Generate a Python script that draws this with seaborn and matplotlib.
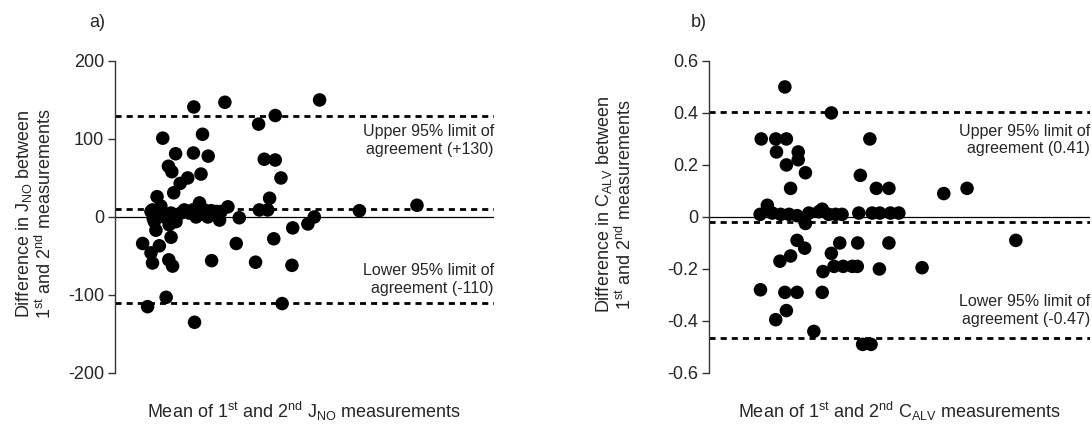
import matplotlib.pyplot as plt
import pandas as pd
import seaborn as sns

sns.set_theme(style="ticks")
plt.rcParams["font.family"] = ["Liberation Sans", "DejaVu Sans"]
plt.rcParams["mathtext.default"] = "regular"
plt.rcParams["axes.unicode_minus"] = False

# panel a) J_NO, x in arbitrary units (no x ticks on the original)
jno_mean = [20.8, 29.0, 54.0, 42.3, 37.9, 12.6, 23.1, 16.0, 20.7, 24.6, 14.1, 15.0,
            39.4, 42.3, 17.2, 19.2, 22.7, 43.8, 15.5, 11.1, 40.8,
            9.9, 12.1, 10.1, 11.3, 13.5, 14.8, 16.1, 18.3, 19.6, 22.3, 21.8, 21.4,
            24.5, 25.4, 27.6, 29.8, 28.0, 32.8, 38.1, 40.3, 64.5, 79.7, 52.6,
            9.5, 10.4, 13.0, 17.4, 23.6, 26.7, 20.5,
            10.8, 14.3, 14.8, 46.9, 50.9, 41.9, 7.3, 11.7, 32.0, 9.5, 9.9, 14.2,
            15.2, 25.5, 37.1, 46.7, 13.5, 8.6, 44.1, 21.0]
jno_diff = [141, 147, 150, 130, 119, 101, 106, 81, 82, 78, 65, 58,
            74, 73, 43, 50, 55, 50, 31, 26, 24,
            9, 14, -2, 3, 3, 5, -6, 9, 5, 18, 9, 0,
            0, 8, -4, 13, 7, -1, 9, 9, 8, 15, 0,
            7, -6, 0, 5, 9, 7, 9,
            -17, -10, -26, -14, -9, -28, -34, -37, -34, -46, -59, -55,
            -63, -56, -58, -62, -103, -115, -111, -135]
jno_limits = [-110, 10, 130]  # lower, mean, upper
jno_ticks = [-200, -100, 0, 100, 200]
jno_ticklabels = ["-200", "-100", "0", "100", "200"]

# panel b) C_ALV
calv_mean = [19.9, 32.1, 13.7, 17.5, 20.3, 42.2, 17.7, 23.4, 20.3, 23.4, 25.3, 39.7,
             21.4, 43.9, 47.2, 61.6, 67.7,
             13.4, 15.3, 16.6, 18.8, 21.0, 23.1, 25.3, 26.2, 28.8, 29.7, 31.4, 33.2,
             34.9, 39.3, 42.8, 44.8, 47.6, 49.8,
             80.5, 23.1, 25.1, 34.3, 39.0, 47.2, 32.1, 21.4, 18.6, 32.8, 35.2, 37.6,
             38.9, 44.7, 55.9, 29.9, 13.5, 19.9, 23.1, 29.7, 20.3, 17.5, 27.5, 40.3, 42.5]
calv_diff = [0.50, 0.40, 0.30, 0.30, 0.30, 0.30, 0.25, 0.25, 0.20, 0.22, 0.17, 0.16,
             0.11, 0.11, 0.11, 0.09, 0.11,
             0.01, 0.045, 0.015, 0.01, 0.01, 0.005, -0.025, 0.015, 0.02, 0.03, 0.01, 0.01,
             0.01, 0.015, 0.015, 0.015, 0.015, 0.015,
             -0.09, -0.09, -0.12, -0.10, -0.10, -0.10, -0.14, -0.15, -0.17, -0.19, -0.19, -0.19,
             -0.19, -0.20, -0.195, -0.21, -0.28, -0.29, -0.29, -0.29, -0.36, -0.395, -0.44, -0.49, -0.49]
calv_limits = [-0.465, -0.02, 0.405]
calv_ticks = [-0.6, -0.4, -0.2, 0, 0.2, 0.4, 0.6]
calv_ticklabels = ["-0.6", "-0.4", "-0.2", "0", "0.2", "0.4", "0.6"]

FS = 13
ANN_FS = 11.5


def bland_altman(ax, mean, diff, limits, ticks, ticklabels, ylabel, xlabel,
                 upper_txt, upper_y, lower_txt, lower_y, ylab_pos):
    df = pd.DataFrame({"mean": mean, "diff": diff})
    sns.scatterplot(data=df, x="mean", y="diff", ax=ax, color="black",
                    s=95, edgecolor="none", linewidth=0, zorder=3)
    ax.axhline(0, color="black", lw=0.9, zorder=2)
    for v in limits:
        ax.axhline(v, color="black", lw=2.0, ls=(0, (2.2, 1.8)), zorder=2)
    ax.set_xlim(0, 100)
    ax.set_ylim(ticks[0], ticks[-1])
    ax.set_yticks(ticks)
    ax.set_yticklabels(ticklabels, fontsize=FS)
    ax.set_xticks([])
    for s in ["top", "right", "bottom"]:
        ax.spines[s].set_visible(False)
    ax.spines["left"].set_color("#333333")
    ax.spines["left"].set_linewidth(1.0)
    ax.tick_params(axis="y", direction="out", length=5, width=1.0, color="#333333", pad=3)
    ax.set_ylabel(ylabel, fontsize=FS, linespacing=1.05)
    ax.yaxis.set_label_coords(*ylab_pos)
    ax.set_xlabel(xlabel, fontsize=FS)
    ax.xaxis.set_label_coords(0.5, -0.085)
    ax.text(100, upper_y, upper_txt, ha="right", va="center", fontsize=ANN_FS)
    ax.text(100, lower_y, lower_txt, ha="right", va="center", fontsize=ANN_FS)


fig = plt.figure(figsize=(10.92, 4.24), dpi=100)
ax1 = fig.add_axes([0.1053, 0.1203, 0.347, 0.736])
ax2 = fig.add_axes([0.6493, 0.1203, 0.349, 0.736])

bland_altman(ax1, jno_mean, jno_diff, jno_limits, jno_ticks, jno_ticklabels,
             "Difference in J$_{NO}$ between\n1$^{st}$ and 2$^{nd}$ measurements",
             "Mean of 1$^{st}$ and 2$^{nd}$ J$_{NO}$ measurements",
             "Upper 95% limit of\nagreement (+130)", 98,
             "Lower 95% limit of\nagreement (-110)", -80, (-0.158, 0.51))
bland_altman(ax2, calv_mean, calv_diff, calv_limits, calv_ticks, calv_ticklabels,
             "Difference in C$_{ALV}$ between\n1$^{st}$ and 2$^{nd}$ measurements",
             "Mean of 1$^{st}$ and 2$^{nd}$ C$_{ALV}$ measurements",
             "Upper 95% limit of\nagreement (0.41)", 0.296,
             "Lower 95% limit of\nagreement (-0.47)", -0.36, (-0.194, 0.54))

fig.text(0.089, 0.946, "a)", fontsize=FS, ha="center", va="center")
fig.text(0.640, 0.946, "b)", fontsize=FS, ha="center", va="center")

fig.savefig("out.png", dpi=100)
